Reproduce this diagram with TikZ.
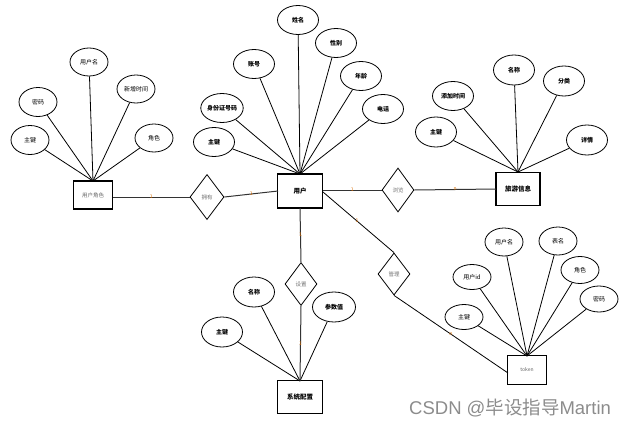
\documentclass[tikz,border=0pt]{standalone}
\usepackage{fontspec}
\setmainfont{Noto Sans CJK SC}
\newfontfamily\cjk{Noto Sans CJK SC}
\newfontfamily\wmlat{Liberation Sans}
\usetikzlibrary{shapes.geometric}
\tikzset{
  attr/.style={ellipse, draw, line width=0.8pt, minimum width=41pt, minimum height=29pt, inner sep=0pt, font=\fontsize{6}{7}\selectfont\bfseries},
  ent/.style={rectangle, draw, line width=1.3pt, minimum width=44pt, minimum height=33pt, inner sep=0pt, font=\fontsize{6.5}{7}\selectfont\bfseries},
  rel/.style={diamond, draw, line width=0.8pt, minimum width=33pt, minimum height=44pt, inner sep=0pt, text=black!55, font=\fontsize{5.5}{6}\selectfont},
  aline/.style={draw, line width=0.8pt},
  rline/.style={draw, line width=1pt, black!80},
  card/.style={font=\fontsize{5}{5}\selectfont, text=orange!85!black, inner sep=0.5pt}
}
\begin{document}
\begin{tikzpicture}[x=1pt,y=-1pt]
\useasboundingbox (0,0) rectangle (630,426);
% ---------- 用户角色 ----------
\node[ent, minimum width=39pt, minimum height=28pt, font=\fontsize{5.5}{6}\selectfont, text=black!60] (ur) at (93,195) {用户角色};
\coordinate (urt) at (93,181);
\node[attr, minimum width=38pt, minimum height=29pt, font=\fontsize{6}{7}\selectfont] (ur1) at (30,140) {主键};
\node[attr, minimum width=38pt, minimum height=29pt, font=\fontsize{6}{7}\selectfont] (ur2) at (38,102) {密码};
\node[attr, minimum width=38pt, minimum height=28pt, font=\fontsize{6}{7}\selectfont] (ur3) at (89,62) {用户名};
\node[attr, minimum width=38pt, minimum height=28pt, font=\fontsize{6}{7}\selectfont] (ur4) at (136,89) {新增时间};
\node[attr, minimum width=38pt, minimum height=28pt, font=\fontsize{6}{7}\selectfont] (ur5) at (154,138) {角色};
\foreach \a in {ur1,ur2,ur3,ur4,ur5} \draw[aline] (\a) -- (urt);
% ---------- 用户 ----------
\node[ent, minimum width=45pt, minimum height=34pt] (user) at (300,191) {用户};
\coordinate (usert) at (300,174);
\node[attr] (u1) at (298,20) {姓名};
\node[attr] (u2) at (336,43) {性别};
\node[attr] (u3) at (254,64) {账号};
\node[attr] (u4) at (361,76) {年龄};
\node[attr] (u5) at (222,108) {身份证号码};
\node[attr] (u6) at (383,109) {电话};
\node[attr] (u7) at (214,142) {主键};
\foreach \a in {u1,u2,u3,u4,u5,u6,u7} \draw[aline] (\a) -- (usert);
% ---------- 旅游信息 ----------
\node[ent] (info) at (518,189) {旅游信息};
\coordinate (infot) at (518,172);
\node[attr, minimum height=30pt] (i1) at (514,70) {名称};
\node[attr, minimum height=30pt] (i2) at (564,81) {分类};
\node[attr] (i3) at (453,96) {添加时间};
\node[attr, minimum height=30pt] (i4) at (436,132) {主键};
\node[attr, minimum height=30pt] (i5) at (587,140) {详情};
\foreach \a in {i1,i2,i3,i4,i5} \draw[aline] (\a) -- (infot);
% ---------- 系统配置 ----------
\node[ent, minimum width=45pt] (cfg) at (300,397) {系统配置};
\coordinate (cfgt) at (300,381);
\node[attr, minimum height=30pt] (c1) at (254,292) {名称};
\node[attr, minimum height=30pt] (c2) at (222,332) {主键};
\node[attr, minimum width=43pt, minimum height=30pt] (c3) at (334,307) {参数值};
\foreach \a in {c1,c2,c3} \draw[aline] (\a) -- (cfgt);
% ---------- token ----------
\node[ent, minimum width=39pt, minimum height=29pt, font=\fontsize{5}{6}\selectfont, text=black!60] (tok) at (527,370) {token};
\coordinate (tokt) at (527,356);
\node[attr, minimum width=38pt, minimum height=28pt, font=\fontsize{6}{7}\selectfont] (t1) at (504,242) {用户名};
\node[attr, minimum width=38pt, minimum height=28pt, font=\fontsize{6}{7}\selectfont] (t2) at (558,241) {表名};
\node[attr, minimum width=38pt, minimum height=25pt, font=\fontsize{6}{7}\selectfont] (t3) at (472,277) {用户id};
\node[attr, minimum width=38pt, minimum height=27pt, font=\fontsize{6}{7}\selectfont] (t4) at (580,270) {角色};
\node[attr, minimum width=38pt, minimum height=26pt, font=\fontsize{6}{7}\selectfont] (t5) at (599,299) {密码};
\node[attr, minimum width=38pt, minimum height=25pt, font=\fontsize{6}{7}\selectfont] (t6) at (464,317) {主键};
\foreach \a in {t1,t2,t3,t4,t5,t6} \draw[aline] (\a) -- (tokt);
% ---------- relationships ----------
\node[rel, minimum width=34pt, minimum height=45pt] (r1) at (207,197) {拥有};
\node[rel, minimum width=32pt, minimum height=44pt] (r2) at (398,190) {浏览};
\node[rel, minimum width=32pt, minimum height=43pt] (r3) at (301,284) {设置};
\node[rel, minimum width=32pt, minimum height=42pt] (r4) at (394,274) {管理};
\coordinate (urR) at (113,197);
\coordinate (userL) at (278,191);
\coordinate (userR) at (323,190);
\coordinate (userRD) at (323,192);
\coordinate (userB) at (300,208);
\coordinate (infoL) at (496,189);
\coordinate (tokL) at (508,373);
\draw[rline] (urR) -- node[card]{1} (r1.west);
\draw[rline] (r1.east) -- node[card]{1} (userL);
\draw[rline] (userR) -- node[card]{1} (r2.west);
\draw[rline] (r2.east) -- node[card]{n} (infoL);
\draw[rline] (userB) -- node[card]{1} (r3.north);
\draw[rline] (r3.south) -- node[card]{1} (cfgt);
\draw[aline] (userRD) -- node[card, pos=0.48]{1} (r4.north);
\draw[aline] (r4.south) -- node[card, pos=0.5]{n} (tokL);
% ---------- watermark ----------
\node[text=black!45, inner sep=0pt, anchor=west] (wm) at (409,408) {\fontsize{18.5}{19}\selectfont\wmlat CSDN @\cjk 毕设指导\wmlat Martin};
\end{tikzpicture}
\end{document}
